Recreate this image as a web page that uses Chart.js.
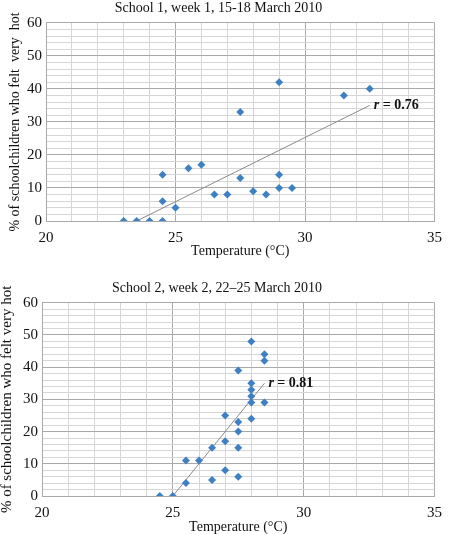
<!DOCTYPE html>
<html>
<head>
<meta charset="utf-8">
<script src="https://cdn.jsdelivr.net/npm/chart.js@4/dist/chart.umd.min.js"></script>
<style>
  html, body { margin: 0; padding: 0; background: #fff; overflow: hidden; }
  body { width: 450px; height: 534px; position: relative; }
  .box { position: absolute; }
  #box1 { left: 0; top: 0; width: 450px; height: 265px; }
  #box2 { left: -5px; top: 265px; width: 455px; height: 272px; }
</style>
</head>
<body>
<div class="box" id="box1"><canvas id="chart1"></canvas></div>
<div class="box" id="box2"><canvas id="chart2"></canvas></div>
<script>
// school 1, week 1
var school1Temp = [23, 23.5, 24, 24.5, 24.5, 24.5, 25, 25.5, 26, 26.5, 27, 27.5, 27.5, 28, 28.5, 29, 29, 29, 29.5, 31.5, 32.5];
var school1Pct  = [0, 0, 0, 0, 6, 14, 4, 16, 17, 8, 8, 13, 33, 9, 8, 10, 14, 42, 10, 38, 40];
var trend1Temp = [23.5, 32.5];
var trend1Pct  = [0, 35];

// school 2, week 2
var school2Temp = [24.5, 25, 25.5, 25.5, 26, 26.5, 26.5, 27, 27, 27, 27.5, 27.5, 27.5, 27.5, 27.5, 28, 28, 28, 28, 28, 28, 28.5, 28.5, 28.5];
var school2Pct  = [0, 0, 4, 11, 11, 15, 5, 25, 17, 8, 39, 23, 20, 15, 6, 48, 35, 33, 31, 29, 24, 44, 42, 29];
var trend2Temp = [25, 28.5];
var trend2Pct  = [0, 35];

var titles = ['School 1, week 1, 15-18 March 2010', 'School 2, week 2, 22\u201325 March 2010'];
var rLabels = ['0.76', '0.81'];

var serif = '"Liberation Serif", "Times New Roman", serif';

function toPoints(xs, ys) {
  return xs.map(function (x, i) { return { x: x, y: ys[i] }; });
}

var rLabel = {
  id: 'rLabel',
  afterDatasetsDraw: function (chart, args, opts) {
    var meta = chart.getDatasetMeta(1);
    var end = meta.data[meta.data.length - 1];
    var ctx = chart.ctx;
    ctx.save();
    ctx.fillStyle = '#111';
    ctx.textBaseline = 'middle';
    ctx.textAlign = 'left';
    var x = end.x + 4;
    ctx.font = 'italic bold 14px ' + serif;
    ctx.fillText('r', x, end.y);
    x += ctx.measureText('r').width;
    ctx.font = 'bold 14px ' + serif;
    ctx.fillText(' = ' + opts.text, x, end.y);
    ctx.restore();
  }
};

function makeChart(id, temps, pcts, tTemps, tPcts, title, rText, lay) {
  var ctx = document.getElementById(id).getContext('2d');
  return new Chart(ctx, {
    type: 'scatter',
    data: {
      datasets: [{
        data: toPoints(temps, pcts),
        pointStyle: 'rectRot',
        pointRadius: 4,
        pointHoverRadius: 4,
        backgroundColor: '#3f80c4',
        borderColor: '#3f80c4',
        borderWidth: 0,
        order: 0
      }, {
        type: 'line',
        data: toPoints(tTemps, tPcts),
        borderColor: '#8a8a8a',
        borderWidth: 1,
        pointRadius: 0,
        fill: false,
        order: 1
      }]
    },
    options: {
      responsive: true,
      maintainAspectRatio: false,
      animation: false,
      events: [],
      layout: { padding: { left: 0, right: lay.right, top: 0, bottom: 0 } },
      plugins: {
        legend: { display: false },
        tooltip: { enabled: false },
        title: {
          display: true,
          text: title,
          color: '#111',
          font: { family: serif, size: 14, weight: 'normal' },
          padding: lay.titlePad
        },
        rLabel: { text: rText }
      },
      scales: {
        x: {
          type: 'linear',
          min: 20,
          max: 35,
          afterFit: function (s) { s.height = lay.xh; },
          ticks: {
            stepSize: 1,
            autoSkip: false,
            maxRotation: 0,
            padding: lay.xtPad,
            color: '#111',
            font: { family: serif, size: 15 },
            callback: function (v) { return v % 5 === 0 ? v : ''; }
          },
          grid: {
            drawTicks: false,
            color: function (c) { return c.tick && c.tick.value % 5 === 0 ? '#a9a9a9' : '#d6d6d6'; }
          },
          border: { color: '#a9a9a9' },
          title: {
            display: true,
            text: 'Temperature (\u00b0C)',
            color: '#111',
            font: { family: serif, size: 14 },
            padding: lay.xTitlePad
          }
        },
        y: {
          min: 0,
          max: 60,
          afterFit: function (s) { s.width = lay.yw; },
          ticks: {
            stepSize: 2,
            autoSkip: false,
            padding: 4,
            color: '#111',
            font: { family: serif, size: 15 },
            callback: function (v) { return v % 10 === 0 ? v : ''; }
          },
          grid: {
            drawTicks: false,
            color: function (c) { return c.tick && c.tick.value % 10 === 0 ? '#a9a9a9' : '#d6d6d6'; }
          },
          border: { color: '#a9a9a9' },
          title: {
            display: true,
            text: lay.yTitle,
            color: '#111',
            font: { family: serif, size: lay.yTitleSize },
            padding: lay.yTitlePad
          }
        }
      }
    },
    plugins: [rLabel]
  });
}

makeChart('chart1', school1Temp, school1Pct, trend1Temp, trend1Pct, titles[0], rLabels[0], {
  right: 13, xh: 44, yw: 46, xtPad: 8,
  titlePad: { top: 0, bottom: 6 },
  xTitlePad: { top: 0, bottom: 5 },
  yTitle: '% of schoolchildren who felt  very  hot',
  yTitleSize: 14,
  yTitlePad: { top: 7, bottom: 0 }
});

makeChart('chart2', school2Temp, school2Pct, trend2Temp, trend2Pct, titles[1], rLabels[1], {
  right: 11, xh: 41, yw: 47, xtPad: 8,
  titlePad: { top: 15, bottom: 6 },
  xTitlePad: { top: 0, bottom: 1 },
  yTitle: '% of schoolchildren who felt very hot',
  yTitleSize: 15,
  yTitlePad: { top: 3, bottom: 0 }
});
</script>
</body>
</html>
